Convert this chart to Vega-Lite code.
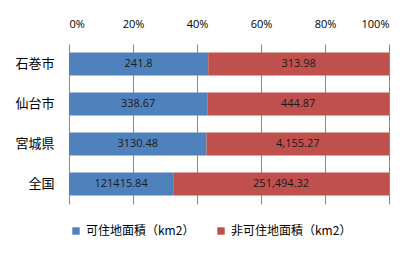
{
  "$schema": "https://vega.github.io/schema/vega-lite/v6.json",
  "width": 320,
  "height": 160,
  "autosize": {"type": "none"},
  "padding": {"left": 69, "top": 44, "right": 31, "bottom": 49},
  "config": {"view": {"stroke": null}, "font": "Noto Sans CJK JP", "background": "white"},
  "data": {
    "values": [
      {"area": "石巻市", "series": "可住地面積（km2）", "value": 241.8, "label": "241.8"},
      {"area": "石巻市", "series": "非可住地面積（km2）", "value": 313.98, "label": "313.98"},
      {"area": "仙台市", "series": "可住地面積（km2）", "value": 338.67, "label": "338.67"},
      {"area": "仙台市", "series": "非可住地面積（km2）", "value": 444.87, "label": "444.87"},
      {"area": "宮城県", "series": "可住地面積（km2）", "value": 3130.48, "label": "3130.48"},
      {"area": "宮城県", "series": "非可住地面積（km2）", "value": 4155.27, "label": "4,155.27"},
      {"area": "全国", "series": "可住地面積（km2）", "value": 121415.84, "label": "121415.84"},
      {"area": "全国", "series": "非可住地面積（km2）", "value": 251494.32, "label": "251,494.32"}
    ]
  },
  "transform": [
    {"stack": "value", "groupby": ["area"], "sort": [{"field": "series", "order": "ascending"}], "offset": "normalize", "as": ["x0", "x1"]},
    {"calculate": "(datum.x0 + datum.x1) / 2", "as": "xmid"}
  ],
  "encoding": {
    "y": {
      "field": "area", "type": "nominal", "sort": ["石巻市", "仙台市", "宮城県", "全国"],
      "scale": {"paddingInner": 0.425, "paddingOuter": 0.2125},
      "axis": {"title": null, "domain": false, "ticks": false, "labelPadding": 15, "labelFontSize": 13, "labelColor": "#000000", "labelFont": "Noto Sans CJK JP"}
    }
  },
  "layer": [
    {
      "mark": {"type": "bar"},
      "encoding": {
        "x": {
          "field": "x0", "type": "quantitative", "scale": {"domain": [0, 1], "nice": false},
          "axis": {"orient": "top", "title": null, "format": ".0%", "values": [0, 0.2, 0.4, 0.6, 0.8, 1], "grid": true, "gridColor": "#878787", "gridOpacity": 1, "domain": false, "ticks": false, "labelPadding": 15, "labelFontSize": 11, "labelColor": "#000000", "labelFont": "Open Sans"}
        },
        "x2": {"field": "x1"},
        "color": {
          "field": "series", "type": "nominal",
          "scale": {"domain": ["可住地面積（km2）", "非可住地面積（km2）"], "range": ["#4F81BD", "#C0504D"]},
          "legend": {"title": null, "orient": "none", "legendX": 1, "legendY": 181, "direction": "horizontal", "symbolType": "square", "symbolSize": 55, "symbolStrokeWidth": 0, "labelFontSize": 12, "labelColor": "#000000", "labelOffset": 4, "columnPadding": 20, "labelLimit": 200}
        }
      }
    },
    {
      "mark": {"type": "text", "fontSize": 11, "color": "#1a1a1a", "font": "Open Sans"},
      "encoding": {
        "x": {"field": "xmid", "type": "quantitative"},
        "text": {"field": "label"}
      }
    }
  ]
}
